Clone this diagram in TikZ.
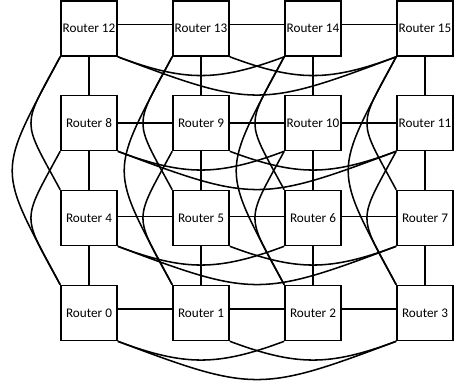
\documentclass[tikz,border=0pt]{standalone}
\usepackage{fontspec}
\setmainfont{Carlito}
\begin{document}
\begin{tikzpicture}[x=0.75pt,y=-0.75pt,
  router/.style={draw, line width=1.2pt, minimum width=42pt, minimum height=41.25pt, inner sep=0pt, font=\fontsize{9.9}{12}\selectfont},
  link/.style={line width=1.15pt}]
\useasboundingbox (0,0) rectangle (458,381);
% routers
\foreach \r/\x/\y in {12/89/28.5,13/201/28.5,14/313/28.5,15/425/28.5,
                      8/89/123,9/201/123,10/313/123,11/425/123,
                      4/89/218,5/201/218,6/313/218,7/425/218,
                      0/89/313,1/201/313,2/313/313,3/425/313}
  \node[router] (r\r) at (\x,\y) {Router \r};
% mesh links (horizontal)
\foreach \b/\s in {12/3pt,8/0pt,4/1pt,0/3pt} {
  \foreach \i in {0,1,2} {
    \pgfmathtruncatemacro\ra{\b+\i}
    \pgfmathtruncatemacro\rb{\b+\i+1}
    \draw[link] ([yshift=\s]r\ra.east) -- ([yshift=\s]r\rb.west);
  }
}
% mesh links (vertical)
\foreach \c in {0,1,2,3} {
  \foreach \j in {0,4,8} {
    \pgfmathtruncatemacro\ra{\c+\j}
    \pgfmathtruncatemacro\rb{\c+\j+4}
    \draw[link] (r\rb.south) -- (r\ra.north);
  }
}
% express links in rows
\foreach \b in {0,4,8,12} {
  \pgfmathtruncatemacro\rb{\b+1}
  \pgfmathtruncatemacro\rc{\b+2}
  \pgfmathtruncatemacro\rd{\b+3}
  \draw[link] (r\b.south east) .. controls +(67,25) and +(-67,25) .. (r\rc.south west);
  \draw[link] (r\rb.south east) .. controls +(67,25) and +(-67,25) .. (r\rd.south west);
  \draw[link] (r\b.south east) .. controls +(135,51) and +(-135,51) .. (r\rd.south west);
}
% express links in columns
\foreach \c in {0,1,2,3} {
  \pgfmathtruncatemacro\ra{\c+4}
  \pgfmathtruncatemacro\rb{\c+8}
  \pgfmathtruncatemacro\rc{\c+12}
  \draw[link] (r\rc.south west) .. controls +(-39,72) and +(-39,-72) .. (r\ra.north west);
  \draw[link] (r\rb.south west) .. controls +(-39,72) and +(-39,-72) .. (r\c.north west);
  \draw[link] (r\rc.south west) .. controls +(-64,120) and +(-64,-120) .. (r\c.north west);
}
\end{tikzpicture}
\end{document}
